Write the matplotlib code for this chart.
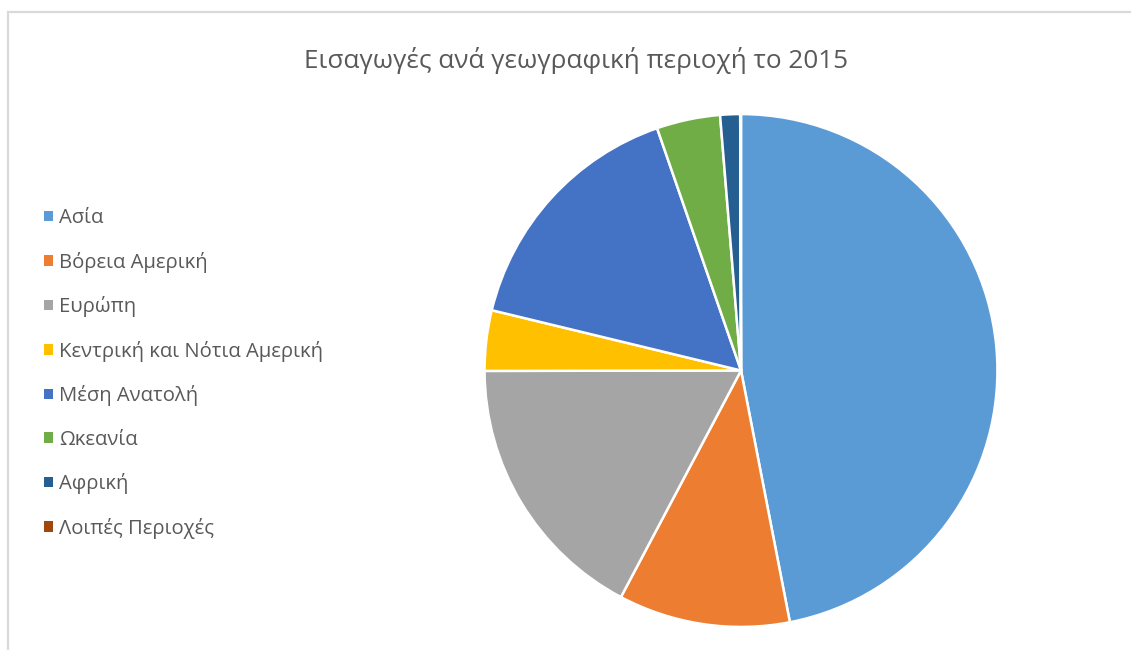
import matplotlib.pyplot as plt
from matplotlib.patches import Rectangle

plt.rcParams['font.family'] = ['Open Sans', 'DejaVu Sans']

# Imports by region, 2015 (share %)
regions = ['Ασία', 'Βόρεια Αμερική', 'Ευρώπη', 'Κεντρική και Νότια Αμερική',
           'Μέση Ανατολή', 'Ωκεανία', 'Αφρική', 'Λοιπές Περιοχές']
shares = [46.9, 10.8, 17.2, 3.8, 15.9, 4.0, 1.25, 0.05]
colors = ['#5B9BD5', '#ED7D31', '#A5A5A5', '#FFC000',
          '#4472C4', '#70AD47', '#255E91', '#9E480E']
title = 'Εισαγωγές ανά γεωγραφική περιοχή το 2015'

fig = plt.figure(figsize=(11.31, 6.5), dpi=100)
fig.patch.set_facecolor('white')

# chart-area frame like the spreadsheet export (only left/top visible)
fig.add_artist(Rectangle((8 / 1131, -0.1), 1.2, 0.1 + (650 - 12) / 650, transform=fig.transFigure,
                         fill=False, edgecolor='#D9D9D9', linewidth=1.6))

# pie axes: centre ~(741, 370) px, radius ~258 px
cx, cy, r = 741 / 1131, 1 - 370.5 / 650, 259
ax = fig.add_axes([cx - r / 1131, cy - r / 650, 2 * r / 1131, 2 * r / 650])
wedges, _ = ax.pie(shares, colors=colors, startangle=90, counterclock=False,
                   radius=1, wedgeprops=dict(edgecolor='white', linewidth=1.8))
ax.set_xlim(-1.01, 1.01)
ax.set_ylim(-1.01, 1.01)
ax.set_aspect('equal')
ax.axis('off')

fig.text(576 / 1131, 1 - 60 / 650, title, ha='center', va='center',
         fontsize=18.8, color='#595959')

leg = fig.legend(wedges, regions, loc='upper left', bbox_to_anchor=(26 / 1131, 1 - 190 / 650),
                 frameon=False, fontsize=14.6, labelcolor='#595959',
                 handlelength=0.42, handleheight=0.42, handletextpad=0.3,
                 labelspacing=1.16)
for h in leg.legend_handles:
    h.set_linewidth(0)

fig.savefig('out.png', dpi=100)
